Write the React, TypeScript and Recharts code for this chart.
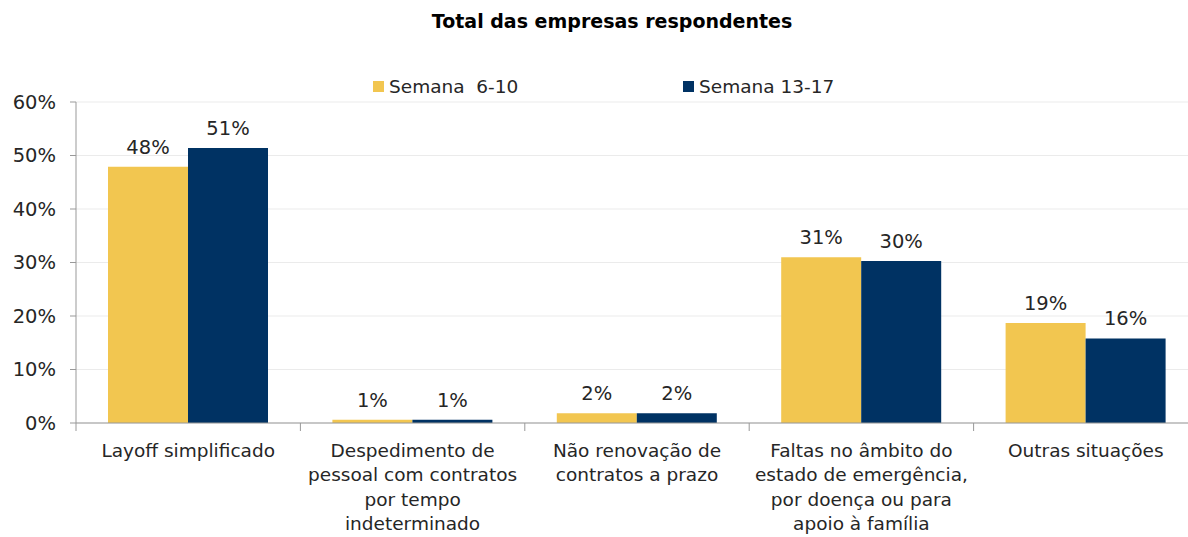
import React from 'react';
import { BarChart, Bar, XAxis, YAxis, CartesianGrid, Legend, LabelList } from 'recharts';

const categories = [
  'Layoff simplificado',
  'Despedimento de\npessoal com contratos\npor tempo\nindeterminado',
  'Não renovação de\ncontratos a prazo',
  'Faltas no âmbito do\nestado de emergência,\npor doença ou para\napoio à família',
  'Outras situações'
];
const semana610 = [47.9, 0.6, 1.8, 31.0, 18.7];
const semana1317 = [51.4, 0.6, 1.8, 30.3, 15.8];
const yTicks = [0, 10, 20, 30, 40, 50, 60];

const YELLOW = '#F2C650';
const NAVY = '#003263';
const TEXT = '#262626';
const FONT = '"DejaVu Sans", Verdana, sans-serif';

const data = categories.map((name, i) => ({
  name,
  s1: semana610[i],
  s2: semana1317[i]
}));

const CategoryTick = (props: any) => {
  const { x, y, payload, width, visibleTicksCount, index } = props;
  const bw = width / visibleTicksCount;
  const lines = String(payload.value).split('\n');
  return (
    <g>
      <line x1={x - bw / 2} y1={y - 8} x2={x - bw / 2} y2={y} stroke="#999" />
      {index === visibleTicksCount - 1 && (
        <line x1={x + bw / 2} y1={y - 8} x2={x + bw / 2} y2={y} stroke="#999" />
      )}
      <text x={x} y={y + 26} textAnchor="middle" fill={TEXT} fontSize={18.5} fontFamily={FONT}>
        {lines.map((l, i) => (
          <tspan key={i} x={x} dy={i === 0 ? 0 : 24.3}>{l}</tspan>
        ))}
      </text>
    </g>
  );
};

const LegendContent = () => (
  <div style={{ display: 'flex', height: 20, paddingBottom: 6, alignItems: 'center', fontFamily: FONT, fontSize: 18.5, color: TEXT, paddingLeft: 373 }}>
    <span style={{ width: 11, height: 11, background: YELLOW, marginRight: 5 }} />
    <span style={{ whiteSpace: 'pre', width: 294 }}>Semana  6-10</span>
    <span style={{ width: 11, height: 11, background: NAVY, marginRight: 5 }} />
    <span style={{ whiteSpace: 'pre' }}>Semana 13-17</span>
  </div>
);

export default function App() {
  return (
    <div style={{ position: 'absolute', left: 0, top: 0, width: 1188, height: 537, overflow: 'hidden', background: '#fff' }}>
      <div style={{ position: 'absolute', top: 10, left: 0, width: 1224, textAlign: 'center', fontFamily: FONT, fontWeight: 'bold', fontSize: 19, color: '#000' }}>
        Total das empresas respondentes
      </div>
      <BarChart
        width={1240}
        height={537}
        data={data}
        margin={{ top: 76, right: 42, bottom: 0, left: 0 }}
        barCategoryGap={32}
        barGap={0}
      >
        <CartesianGrid vertical={false} stroke="#ebebeb" />
        <Legend verticalAlign="top" align="left" content={<LegendContent />} wrapperStyle={{ left: 0, width: 1240 }} />
        <XAxis
          dataKey="name"
          interval={0}
          height={114}
          tickLine={false}
          axisLine={{ stroke: '#999' }}
          tick={<CategoryTick />}
        />
        <YAxis
          width={76}
          domain={[0, 60]}
          ticks={yTicks}
          tickFormatter={(v: number) => `${v}%`}
          tickSize={6}
          tickMargin={14}
          tickLine={{ stroke: '#999' }}
          axisLine={{ stroke: '#999' }}
          tick={{ fill: TEXT, fontSize: 19.5, fontFamily: FONT }}
        />
        <Bar dataKey="s1" fill={YELLOW} isAnimationActive={false}>
          <LabelList dataKey="s1" position="top" offset={13} formatter={(v: any) => `${Math.round(v)}%`} fill={TEXT} fontSize={19.5} fontFamily={FONT} />
        </Bar>
        <Bar dataKey="s2" fill={NAVY} isAnimationActive={false}>
          <LabelList dataKey="s2" position="top" offset={13} formatter={(v: any) => `${Math.round(v)}%`} fill={TEXT} fontSize={19.5} fontFamily={FONT} />
        </Bar>
      </BarChart>
    </div>
  );
}
